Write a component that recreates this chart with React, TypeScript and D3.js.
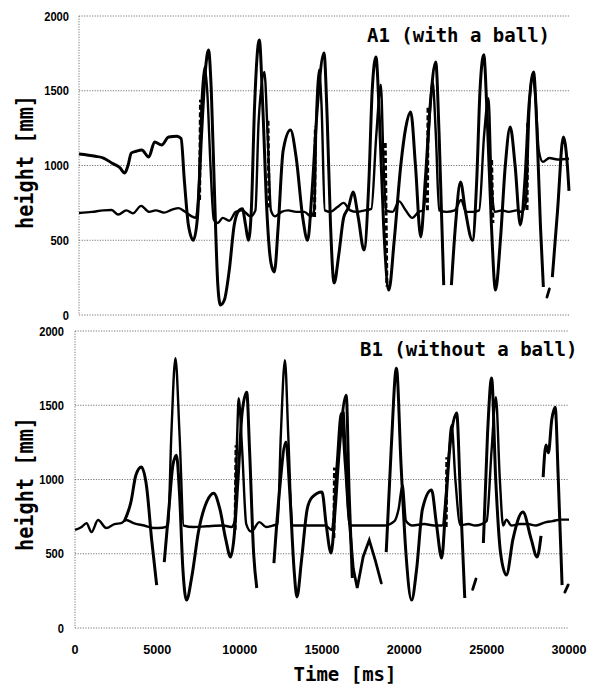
import React from 'react';
import * as d3 from 'd3';

type Pt = [number, number] | null;

const xTicks = [0, 5000, 10000, 15000, 20000, 25000, 30000];
const yTicks = [0, 500, 1000, 1500, 2000];

// A1 (with a ball): [time ms, height mm], null = gap in the record
const waveA: Pt[] = [
  [0, 1077], [1000, 1062], [1500, 1050], [2000, 1017], [2500, 985], [2800, 950], [3000, 1000],
  [3200, 1083], [3500, 1095], [3840, 1104], [4270, 1057], [4630, 1157], [5060, 1137], [5490, 1190],
  [6000, 1195], [6250, 1180], [6450, 900], [6700, 600], [7000, 500], [7250, 650], [7500, 1200],
  [7750, 1650], [7930, 1773], [8100, 1500], [8300, 800], [8500, 200], [8660, 67], [8900, 100],
  [9200, 300], [9500, 600], [9800, 700], [10000, 710], [10200, 600], [10370, 500], [10550, 700],
  [10750, 1400], [11040, 1840], [11250, 1400], [11500, 700], [11750, 350], [11960, 288], [12200, 600],
  [12500, 1100], [12950, 1237], [13300, 1050], [13700, 650], [14000, 500], [14250, 800], [14600, 1400],
  [15000, 1752], [15200, 1300], [15400, 600], [15620, 214], [15900, 400], [16200, 650], [16500, 720],
  [16780, 823], [17100, 650], [17450, 435], [17750, 900], [17950, 1500], [18180, 1726], [18400, 1300],
  [18650, 600], [18970, 167], [19300, 500], [19700, 1000], [20000, 1250], [20310, 1358], [20600, 1000],
  [20920, 522], [21200, 900], [21500, 1400], [21840, 1693], [22050, 1200], [22330, 200], null,
  [22800, 200], [23050, 600], [23360, 890], [23650, 700], [24090, 500], [24350, 900], [24550, 1500],
  [24780, 1740], [25000, 1300], [25250, 600], [25500, 167], [25800, 500], [26100, 1000], [26400, 1258],
  [26700, 1000], [27020, 602], [27300, 900], [27550, 1400], [27830, 1625], [28050, 1200], [28250, 600],
  [28430, 187], null,
  [28980, 254], [29300, 700], [29650, 1191], [29900, 1000], [30000, 830],
];

const baseA: Pt[] = [
  [0, 682], [800, 690], [1500, 700], [2000, 702], [2400, 672], [2900, 700], [3300, 680], [3800, 730],
  [4300, 690], [4700, 700], [5200, 685], [5700, 705], [6100, 715], [6500, 690], [6900, 660], [7150, 650],
  [7350, 900], [7500, 1400], [7690, 1660], [7850, 1500], [8050, 1000], [8250, 640], [8500, 615],
  [8800, 650], [9200, 630], [9600, 690], [10000, 700], [10500, 660], [10800, 700], [11000, 1300],
  [11350, 1625], [11550, 1200], [11750, 700], [12000, 660], [12400, 690], [12800, 700], [13300, 690],
  [13800, 690], [14200, 660], [14400, 700], [14550, 1400], [14700, 1640], [14850, 1400], [15050, 700],
  [15400, 690], [15800, 720], [16200, 750], [16600, 700], [17000, 690], [17500, 700], [17900, 710],
  [18200, 1200], [18480, 1540], [18650, 1000], [18800, 700], [19200, 690], [19600, 760], [20000, 700],
  [20400, 650], [20800, 690], [21100, 700], [21400, 1200], [21650, 1560], [21850, 1200], [22050, 700],
  [22500, 690], [23000, 700], [23400, 770], [23700, 690], [24100, 690], [24500, 700], [24800, 1200],
  [25070, 1450], [25250, 900], [25450, 690], [25900, 700], [26300, 690], [26800, 700], [27100, 690],
  [27350, 750], [27600, 1450], [27750, 1600], [27950, 1450], [28150, 1100], [28400, 1024], [28800, 1050],
  [29300, 1040], [30000, 1045],
];

const dashA: Pt[] = [
  [7380, 770], [7440, 1440], null,
  [11570, 1300], [11640, 720], null,
  [14420, 655], [14470, 1260], null,
  [18750, 1150], [18850, 190], null,
  [21330, 700], [21370, 1390], null,
  [25260, 1037], [25340, 615], null,
  [27430, 702], [27470, 1284],
];

const extraA: Pt[] = [[28650, 120], [28800, 175]];

// B1 (without a ball)
const waveB: Pt[] = [
  [3000, 720], [3400, 850], [3700, 1030], [4030, 1084], [4350, 950], [4650, 600], [4960, 289], null,
  [5420, 444], [5700, 800], [5950, 1100], [6160, 1164], [6350, 900], [6550, 400], [6770, 188],
  [7100, 350], [7500, 650], [8000, 850], [8420, 908], [8800, 800], [9150, 600], [9450, 478],
  [9650, 600], [9900, 1000], [10150, 1450], [10430, 1588], [10600, 1200], [10850, 500], [11040, 269], null,
  [12080, 437], [12400, 900], [12810, 1252], [13050, 900], [13300, 400], [13480, 209], [13750, 450],
  [14100, 800], [14400, 880], [15000, 915], [15250, 700], [15550, 505], [15800, 800], [16050, 1200],
  [16470, 1568], [16650, 900], [16840, 337], null,
  [18900, 511], [19200, 1200], [19520, 1750], [19800, 1100], [20100, 500], [20440, 188], [20750, 400],
  [21100, 800], [21650, 929], [21950, 700], [22270, 471], [22500, 800], [22750, 1200], [23180, 1447],
  [23400, 900], [23670, 202], null,
  [24800, 572], [25050, 1300], [25300, 1683], [25550, 1000], [25850, 500], [26200, 357], [26600, 600],
  [27200, 781], [27700, 600], [28060, 478], [28300, 620], null,
  [28430, 1016], [28600, 1232], [28750, 1180], [28950, 1400], [29160, 1487], [29350, 1000], [29580, 289],
];

const baseB: Pt[] = [
  [0, 660], [400, 680], [700, 706], [1000, 646], [1400, 727], [1900, 673], [2400, 700], [2800, 706],
  [3100, 727], [3600, 705], [4200, 690], [4800, 673], [5300, 675], [5650, 690], [5850, 1300],
  [6100, 1817], [6350, 1300], [6600, 690], [7200, 680], [8000, 685], [9000, 690], [9500, 680],
  [9700, 720], [9850, 1300], [9940, 1548], [10150, 1200], [10400, 700], [10700, 650], [11200, 713],
  [11600, 680], [12000, 690], [12300, 700], [12500, 1300], [12750, 1804], [12950, 1300], [13200, 690],
  [13800, 690], [14500, 690], [15200, 690], [15600, 660], [15900, 1100], [16160, 1447], [16400, 1100],
  [16700, 690], [17400, 690], [18200, 690], [18800, 690], [19400, 720], [19650, 800], [19890, 962],
  [20100, 720], [20500, 690], [21200, 700], [21800, 690], [22300, 690], [22600, 1000], [22870, 1366],
  [23100, 1000], [23400, 693], [23900, 700], [24300, 690], [24700, 700], [25000, 720], [25300, 1200],
  [25560, 1555], [25800, 1000], [26000, 690], [26200, 730], [26500, 690], [27000, 700], [27500, 700],
  [28000, 690], [28500, 710], [29000, 720], [29500, 730], [30000, 730],
];

const dashB: Pt[] = [
  [9720, 660], [9780, 1230], null,
  [15720, 606], [15760, 1080], null,
  [22540, 680], [22580, 1150],
];

const extraB: Pt[] = [
  [16300, 1450], [16600, 800], [16900, 400], [17140, 269], [17500, 480], [17870, 592], [18250, 450],
  [18600, 303], null,
  [24150, 260], [24350, 330], null,
  [29750, 242], [29950, 290],
];

const tickFont = "'Liberation Sans Narrow', 'Liberation Sans', Arial, sans-serif";
const monoFont = "'DejaVu Sans Mono', monospace";

function Panel(props: any) {
  const { left, right, top, bottom, tickRight, title, titleX, titleY, labelCy, wave, base, dash, extra } = props;
  const x = d3.scaleLinear().domain([0, 30000]).range([left, right]);
  const y = d3.scaleLinear().domain([0, 2000]).range([bottom, top]);

  const smooth = d3.line<Pt>()
    .defined(d => d !== null)
    .x(d => x(d![0]))
    .y(d => y(d![1]))
    .curve(d3.curveMonotoneX);
  const straight = d3.line<Pt>()
    .defined(d => d !== null)
    .x(d => x(d![0]))
    .y(d => y(d![1]));

  return (
    <g>
      {yTicks.map(t => (
        <line key={'g' + t} x1={left} x2={right} y1={y(t)} y2={y(t)}
          stroke="#777" strokeWidth={1} strokeDasharray="1.2,1.4" />
      ))}
      <line x1={left} x2={left} y1={top} y2={bottom} stroke="#777" strokeWidth={1} strokeDasharray="1.2,1.4" />
      {yTicks.map(t => (
        <text key={'t' + t} x={tickRight} y={y(t)} dy="0.36em" textAnchor="end"
          fontFamily={tickFont} fontWeight="bold" fontSize={13}
          textLength={String(t).length * 6.2} lengthAdjust="spacingAndGlyphs">{t}</text>
      ))}
      <path d={smooth(base) || ''} fill="none" stroke="#000" strokeWidth={2.4} strokeLinejoin="round" />
      <path d={smooth(wave) || ''} fill="none" stroke="#000" strokeWidth={3} strokeLinejoin="round" />
      <path d={straight(extra) || ''} fill="none" stroke="#000" strokeWidth={2.8} strokeLinecap="round" />
      <path d={straight(dash) || ''} fill="none" stroke="#000" strokeWidth={3} strokeDasharray="5,2.5" />
      <text x={titleX} y={titleY} fontFamily={monoFont} fontWeight="bold" fontSize={19}>{title}</text>
      <text transform={`translate(33,${labelCy}) rotate(-90)`} textAnchor="middle"
        fontFamily={monoFont} fontWeight="bold" fontSize={23} textLength={134} lengthAdjust="spacingAndGlyphs">
        {'height  [mm]'}
      </text>
    </g>
  );
}

export default function App() {
  const xb = d3.scaleLinear().domain([0, 30000]).range([75, 569]);
  return (
    <svg width={595} height={693} style={{ position: 'absolute', left: 0, top: 0, background: '#fff' }}>
      <rect width={595} height={693} fill="#fff" />
      <Panel left={79} right={569} top={16} bottom={315} tickRight={69}
        title="A1 (with a ball)" titleX={367} titleY={42} labelCy={162}
        wave={waveA} base={baseA} dash={dashA} extra={extraA} />
      <Panel left={75} right={569} top={331} bottom={628} tickRight={64}
        title="B1 (without a ball)" titleX={360} titleY={356} labelCy={484}
        wave={waveB} base={baseB} dash={dashB} extra={extraB} />
      {xTicks.map(t => (
        <text key={t} x={xb(t)} y={654} textAnchor="middle"
          fontFamily={tickFont} fontWeight="bold" fontSize={13}
          textLength={String(t).length * 7} lengthAdjust="spacingAndGlyphs">{t}</text>
      ))}
      <text x={345} y={681} textAnchor="middle" fontFamily={monoFont} fontWeight="bold" fontSize={19}>
        Time [ms]
      </text>
    </svg>
  );
}
